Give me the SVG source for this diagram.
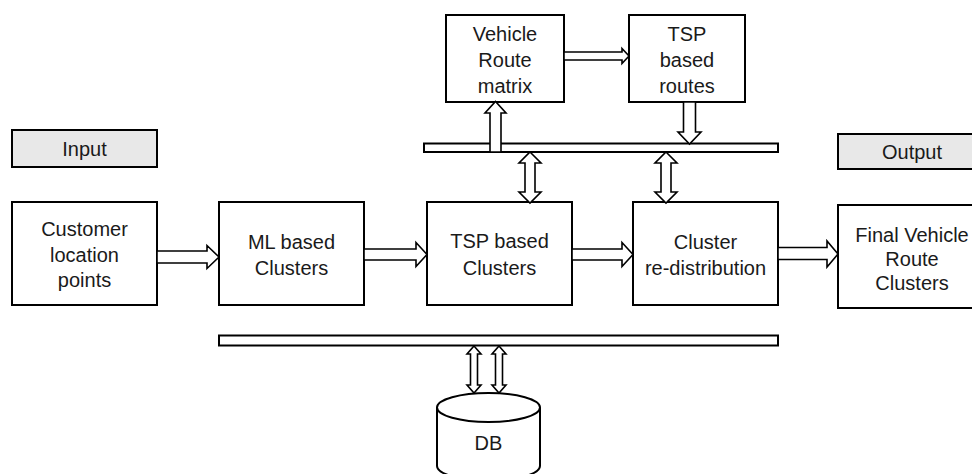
<svg xmlns="http://www.w3.org/2000/svg" width="972" height="474" viewBox="0 0 972 474">
  <style>
    .box { fill: #ffffff; stroke: #000000; stroke-width: 2; }
    .label { fill: #e8e8e8; stroke: #000000; stroke-width: 2; }
    .bar { fill: #ffffff; stroke: #000000; stroke-width: 2; }
    .arrow { fill: #ffffff; stroke: #000000; stroke-width: 1.6; stroke-linejoin: miter; }
    text { font-family: "Liberation Sans", Arial, sans-serif; font-size: 20px; fill: #1a1a1a; text-anchor: middle; }
  </style>

  <!-- bus bars -->
  <g id="bars">
    <rect class="bar" x="424" y="143.5" width="354" height="8.5"/>
    <rect class="bar" x="219" y="335.5" width="559" height="10"/>
  </g>

  <!-- section labels -->
  <g id="input-label">
    <rect class="label" x="12" y="130" width="145" height="37"/>
    <text x="84.5" y="156">Input</text>
  </g>
  <g id="output-label">
    <rect class="label" x="838" y="134" width="150" height="35"/>
    <text x="912" y="159">Output</text>
  </g>

  <!-- process nodes -->
  <g id="customer-points">
    <rect class="box" x="12" y="202" width="145" height="103"/>
    <text x="84.5" y="236">Customer</text>
    <text x="84.5" y="262">location</text>
    <text x="84.5" y="287">points</text>
  </g>
  <g id="ml-clusters">
    <rect class="box" x="219" y="202" width="145" height="103"/>
    <text x="291.5" y="249">ML based</text>
    <text x="291.5" y="275">Clusters</text>
  </g>
  <g id="tsp-clusters">
    <rect class="box" x="427" y="202" width="145" height="103"/>
    <text x="499.5" y="248">TSP based</text>
    <text x="499.5" y="275">Clusters</text>
  </g>
  <g id="cluster-redistribution">
    <rect class="box" x="633" y="202" width="145" height="103"/>
    <text x="705.5" y="249">Cluster</text>
    <text x="705.5" y="275">re-distribution</text>
  </g>
  <g id="final-clusters">
    <rect class="box" x="838" y="205" width="150" height="103"/>
    <text x="912" y="242">Final Vehicle</text>
    <text x="912" y="266">Route</text>
    <text x="912" y="290">Clusters</text>
  </g>
  <g id="vehicle-route-matrix">
    <rect class="box" x="446" y="15" width="118" height="87"/>
    <text x="505" y="41">Vehicle</text>
    <text x="505" y="67">Route</text>
    <text x="505" y="93">matrix</text>
  </g>
  <g id="tsp-routes">
    <rect class="box" x="629" y="15" width="116" height="87"/>
    <text x="687" y="41">TSP</text>
    <text x="687" y="67">based</text>
    <text x="687" y="93">routes</text>
  </g>
  <g id="db">
    <path class="box" d="M437,407.5 L437,466 A51.5,14.5 0 0 0 540,466 L540,407.5"/>
    <ellipse class="box" cx="488.5" cy="407.5" rx="51.5" ry="14.5"/>
    <text x="488.5" y="450">DB</text>
  </g>

  <!-- block arrows -->
  <g id="connectors">
    <!-- main flow, left to right -->
    <polygon class="arrow" points="157,251 207,251 207,245.5 219,257 207,268.5 207,263 157,263"/>
    <polygon class="arrow" points="364,249 416,249 416,242.5 427,254.5 416,266.5 416,260 364,260"/>
    <polygon class="arrow" points="572,249 622,249 622,242.5 633,254.5 622,266.5 622,260 572,260"/>
    <polygon class="arrow" points="778,247.5 827,247.5 827,241 838,254 827,267 827,259.5 778,259.5"/>
    <!-- matrix to routes -->
    <polygon class="arrow" points="564,52 622,52 622,48.5 629,56 622,63.5 622,60 564,60"/>
    <!-- bar up to matrix -->
    <polygon class="arrow" points="490,152 490,113 485,113 495.5,101.5 506,113 501,113 501,152"/>
    <!-- routes down to bar -->
    <polygon class="arrow" points="683.5,102 683.5,132 678,132 689.5,144 701,132 695.5,132 695.5,102"/>
    <!-- bar to/from TSP clusters -->
    <polygon class="arrow" points="530,152 541,163 535,163 535,192 541,192 530,203 519,192 525,192 525,163 519,163"/>
    <!-- bar to/from redistribution -->
    <polygon class="arrow" points="666,152 677,163 671,163 671,192 677,192 666,203 655,192 661,192 661,163 655,163"/>
    <!-- lower bar to/from DB -->
    <polygon class="arrow" points="474,346 481,354 477.5,354 477.5,385 481,385 474,393 467,385 470.5,385 470.5,354 467,354"/>
    <polygon class="arrow" points="499,346 506,354 502.5,354 502.5,385 506,385 499,393 492,385 495.5,385 495.5,354 492,354"/>
  </g>
</svg>
